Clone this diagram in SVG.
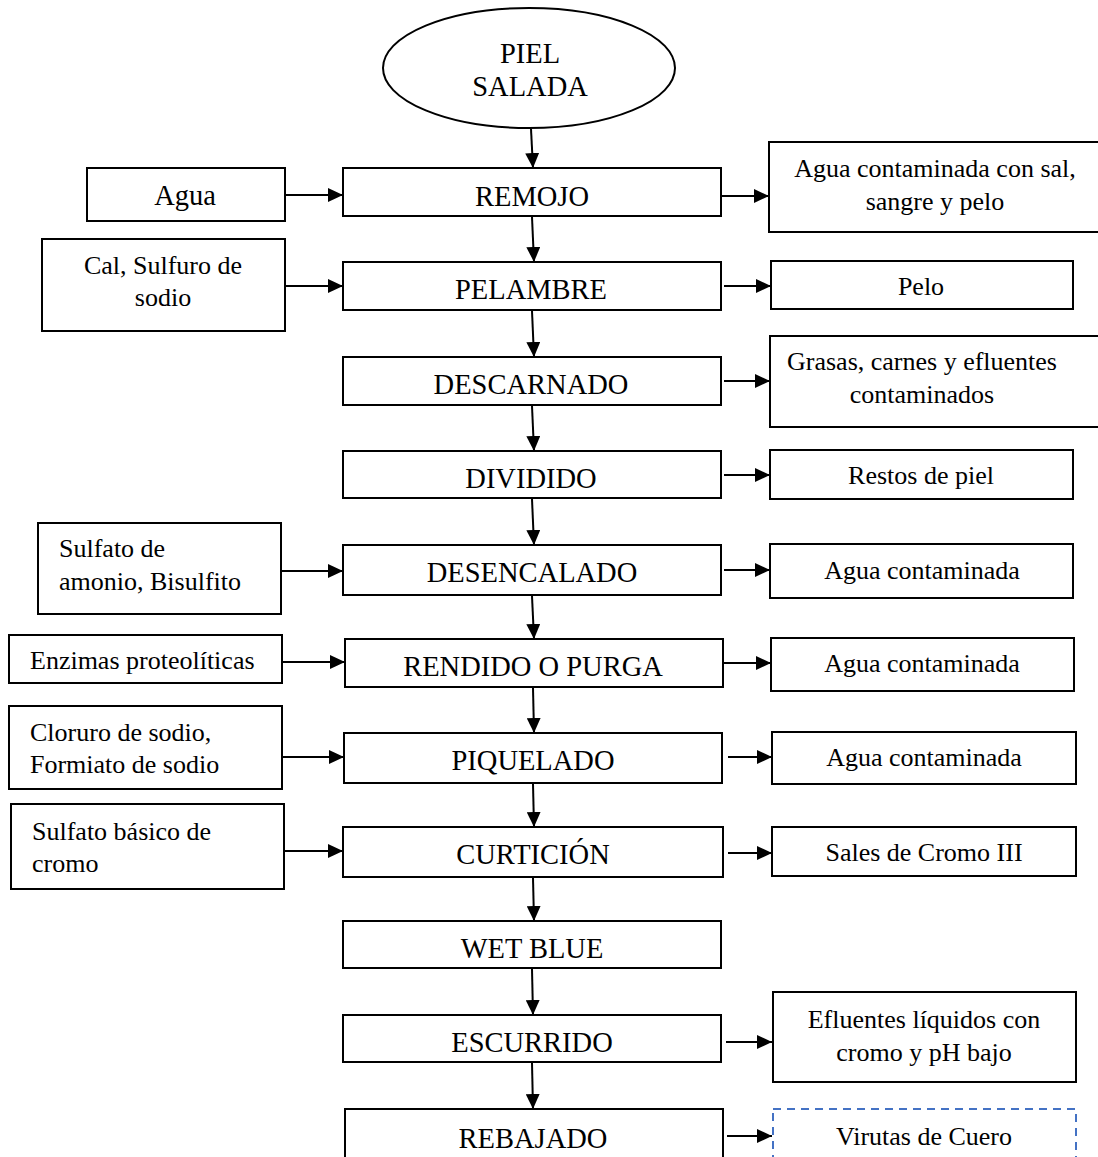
<svg xmlns="http://www.w3.org/2000/svg" width="1098" height="1157" viewBox="0 0 1098 1157">
<style>
.box{fill:#fff;stroke:#000;stroke-width:2}
.dash{fill:#fff;stroke:#4472C4;stroke-width:2;stroke-dasharray:8,6}
.main{font-family:"Liberation Serif","Times New Roman",serif;font-size:28.5px;fill:#000;text-anchor:middle}
.side{font-family:"Liberation Serif","Times New Roman",serif;font-size:26px;fill:#000;text-anchor:middle}
.sidel{font-family:"Liberation Serif","Times New Roman",serif;font-size:26px;fill:#000}
.con{stroke:#000;stroke-width:2;fill:none;marker-end:url(#ah)}
</style>
<defs>
<marker id="ah" markerUnits="userSpaceOnUse" markerWidth="15" markerHeight="14" refX="15" refY="7" orient="auto">
<path d="M0,0 L15,7 L0,14 z" fill="#000"/>
</marker>
</defs>
<rect width="1098" height="1157" fill="#fff"/>

<g id="connectors">
<path class="con" d="M531,129 L533,168"/>
<path class="con" d="M532,217 L534,262"/>
<path class="con" d="M532,311 L534,357"/>
<path class="con" d="M532,406 L534,451"/>
<path class="con" d="M532,499 L534,545"/>
<path class="con" d="M532,596 L534,639"/>
<path class="con" d="M533,688 L534,733"/>
<path class="con" d="M533,784 L534,827"/>
<path class="con" d="M533,878 L534,921"/>
<path class="con" d="M532,969 L533,1015"/>
<path class="con" d="M532,1063 L533,1109"/>

<path class="con" d="M285,195 L343,195"/>
<path class="con" d="M285,286 L343,286"/>
<path class="con" d="M281,571 L343,571"/>
<path class="con" d="M282,662 L345,662"/>
<path class="con" d="M282,757 L344,757"/>
<path class="con" d="M284,851 L343,851"/>

<path class="con" d="M722,196 L769,196"/>
<path class="con" d="M724,286 L771,286"/>
<path class="con" d="M724,381 L770,381"/>
<path class="con" d="M724,475 L770,475"/>
<path class="con" d="M724,570 L770,570"/>
<path class="con" d="M724,663 L771,663"/>
<path class="con" d="M728,757 L772,757"/>
<path class="con" d="M728,853 L772,853"/>
<path class="con" d="M726,1042 L772,1042"/>
<path class="con" d="M727,1136 L772,1136"/>
</g>

<g id="n-piel">
<ellipse class="box" cx="529" cy="68" rx="146" ry="60"/>
<text class="main" x="530" y="63">PIEL</text>
<text class="main" x="530" y="96">SALADA</text>
</g>

<g id="n-remojo"><rect class="box" x="343" y="168" width="378" height="48"/><text class="main" x="532" y="206">REMOJO</text></g>
<g id="n-pelambre"><rect class="box" x="343" y="262" width="378" height="48"/><text class="main" x="531" y="299">PELAMBRE</text></g>
<g id="n-descarnado"><rect class="box" x="343" y="357" width="378" height="48"/><text class="main" x="531" y="394">DESCARNADO</text></g>
<g id="n-dividido"><rect class="box" x="343" y="451" width="378" height="47"/><text class="main" x="531" y="488">DIVIDIDO</text></g>
<g id="n-desencalado"><rect class="box" x="343" y="545" width="378" height="50"/><text class="main" x="532" y="582">DESENCALADO</text></g>
<g id="n-rendido"><rect class="box" x="345" y="639" width="378" height="48"/><text class="main" x="533" y="676">RENDIDO O PURGA</text></g>
<g id="n-piquelado"><rect class="box" x="344" y="733" width="378" height="50"/><text class="main" x="533" y="770">PIQUELADO</text></g>
<g id="n-curticion"><rect class="box" x="343" y="827" width="380" height="50"/><text class="main" x="533" y="864">CURTICIÓN</text></g>
<g id="n-wetblue"><rect class="box" x="343" y="921" width="378" height="47"/><text class="main" x="532" y="958">WET BLUE</text></g>
<g id="n-escurrido"><rect class="box" x="343" y="1015" width="378" height="47"/><text class="main" x="532" y="1052">ESCURRIDO</text></g>
<g id="n-rebajado"><rect class="box" x="345" y="1109" width="378" height="60"/><text class="main" x="533" y="1148">REBAJADO</text></g>

<g id="in-agua"><rect class="box" x="87" y="168" width="198" height="53"/><text class="main" x="185" y="205">Agua</text></g>
<g id="in-cal"><rect class="box" x="42" y="239" width="243" height="92"/><text class="side" x="163" y="274">Cal, Sulfuro de</text><text class="side" x="163" y="306">sodio</text></g>
<g id="in-sulfato"><rect class="box" x="38" y="523" width="243" height="91"/><text class="sidel" x="59" y="557">Sulfato de</text><text class="sidel" x="59" y="590">amonio, Bisulfito</text></g>
<g id="in-enzimas"><rect class="box" x="9" y="635" width="273" height="48"/><text class="sidel" x="30" y="669">Enzimas proteolíticas</text></g>
<g id="in-cloruro"><rect class="box" x="9" y="706" width="273" height="83"/><text class="sidel" x="30" y="741">Cloruro de sodio,</text><text class="sidel" x="30" y="773">Formiato de sodio</text></g>
<g id="in-cromo"><rect class="box" x="11" y="804" width="273" height="85"/><text class="sidel" x="32" y="840">Sulfato básico de</text><text class="sidel" x="32" y="872">cromo</text></g>

<g id="out-agua-sal"><rect class="box" x="769" y="142" width="340" height="90"/><text class="side" x="935" y="177">Agua contaminada con sal,</text><text class="side" x="935" y="210">sangre y pelo</text></g>
<g id="out-pelo"><rect class="box" x="771" y="261" width="302" height="48"/><text class="side" x="921" y="295">Pelo</text></g>
<g id="out-grasas"><rect class="box" x="770" y="336" width="340" height="91"/><text class="side" x="922" y="370">Grasas, carnes y efluentes</text><text class="side" x="922" y="403">contaminados</text></g>
<g id="out-restos"><rect class="box" x="770" y="450" width="303" height="49"/><text class="side" x="921" y="484">Restos de piel</text></g>
<g id="out-agua1"><rect class="box" x="770" y="544" width="303" height="54"/><text class="side" x="922" y="579">Agua contaminada</text></g>
<g id="out-agua2"><rect class="box" x="771" y="638" width="303" height="53"/><text class="side" x="922" y="672">Agua contaminada</text></g>
<g id="out-agua3"><rect class="box" x="772" y="732" width="304" height="52"/><text class="side" x="924" y="766">Agua contaminada</text></g>
<g id="out-sales"><rect class="box" x="772" y="827" width="304" height="49"/><text class="side" x="924" y="861">Sales de Cromo III</text></g>
<g id="out-efluentes"><rect class="box" x="773" y="992" width="303" height="90"/><text class="side" x="924" y="1028">Efluentes líquidos con</text><text class="side" x="924" y="1061">cromo y pH bajo</text></g>
<g id="out-virutas"><rect class="dash" x="773" y="1109" width="303" height="60"/><text class="side" x="924" y="1145">Virutas de Cuero</text></g>
</svg>
